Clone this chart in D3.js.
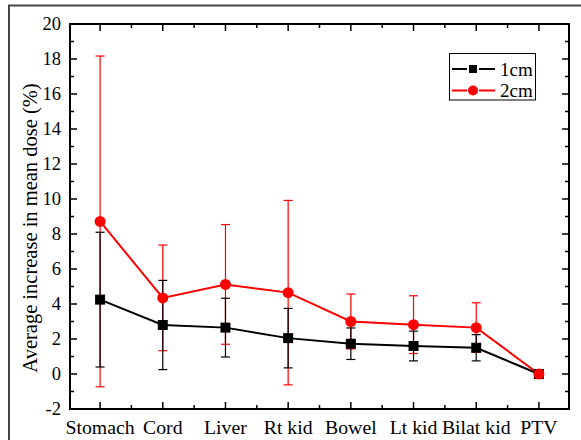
<!DOCTYPE html>
<html><head><meta charset="utf-8">
<script src="https://cdn.jsdelivr.net/npm/d3@7"></script>
<style>body{margin:0;background:#fff}svg{display:block}text{font-family:"Liberation Serif","Times New Roman",serif}</style>
</head><body>
<script>
const categories = ["Stomach","Cord","Liver","Rt kid","Bowel","Lt kid","Bilat kid","PTV"];
const mean1cm = [4.25, 2.8, 2.65, 2.05, 1.73, 1.6, 1.5, 0];
const err1cm  = [3.85, 2.55, 1.68, 1.7, 0.9, 0.85, 0.75, 0];
const mean2cm = [8.72, 4.35, 5.12, 4.65, 3.0, 2.82, 2.65, 0];
const err2cm  = [9.45, 3.02, 3.42, 5.27, 1.57, 1.65, 1.42, 0];
const yTicks = [-2,0,2,4,6,8,10,12,14,16,18,20];
const seriesNames = ["1cm","2cm"];

const W=581,H=440;
const m={l:70,r:569,t:24,b:409};
const svg=d3.select("body").append("svg").attr("width",W).attr("height",H);
svg.append("rect").attr("width",W).attr("height",H).attr("fill","#fff");
// outer frame
svg.append("rect").attr("x",9).attr("y",5.5).attr("width",620).attr("height",500)
  .attr("fill","none").attr("stroke","#444").attr("stroke-width",2);

const x=d3.scaleLinear().domain([0.52,8.48]).range([m.l,m.r]);
const y=d3.scaleLinear().domain([-2,20]).range([m.b,m.t]);
const xi=i=>x(i+1);

const g=svg.append("g");
const majorY=yTicks, minorY=d3.range(-1,20,2);
const majorX=d3.range(1,9), minorX=d3.range(1.5,8.5,1);
const tk=(x1,y1,x2,y2)=>g.append("line").attr("x1",x1).attr("y1",y1).attr("x2",x2).attr("y2",y2).attr("stroke","#000").attr("stroke-width",1.5);
majorY.forEach(v=>{tk(m.l,y(v),m.l+7,y(v));tk(m.r,y(v),m.r-7,y(v));});
minorY.forEach(v=>{tk(m.l,y(v),m.l+4,y(v));tk(m.r,y(v),m.r-4,y(v));});
majorX.forEach(v=>{tk(x(v),m.b,x(v),m.b-7);tk(x(v),m.t,x(v),m.t+7);});
minorX.forEach(v=>{tk(x(v),m.b,x(v),m.b-4);tk(x(v),m.t,x(v),m.t+4);});
g.append("rect").attr("x",m.l).attr("y",m.t).attr("width",m.r-m.l).attr("height",m.b-m.t)
  .attr("fill","none").attr("stroke","#000").attr("stroke-width",2);

yTicks.forEach(v=>g.append("text").attr("x",61).attr("y",y(v)).attr("dy","0.35em")
  .attr("text-anchor","end").attr("font-size",18.5).text(v));
categories.forEach((c,i)=>g.append("text").attr("x",xi(i)).attr("y",434)
  .attr("text-anchor","middle").attr("font-size",19.8).text(c));
g.append("text").attr("transform","translate(37,228) rotate(-90)").attr("text-anchor","middle")
  .attr("font-size",20.5).text("Average increase in mean dose (%)");

function errs(mean,err,col){
  mean.forEach((v,i)=>{
    if(err[i]===0) return;
    const cx=xi(i), hi=y(v+err[i]), lo=y(v-err[i]);
    const e=g.append("g").attr("stroke",col).attr("stroke-width",1.2);
    e.append("line").attr("x1",cx).attr("x2",cx).attr("y1",hi).attr("y2",lo);
    e.append("line").attr("x1",cx-4.5).attr("x2",cx+4.5).attr("y1",hi).attr("y2",hi);
    e.append("line").attr("x1",cx-4.5).attr("x2",cx+4.5).attr("y1",lo).attr("y2",lo);
  });
}
errs(mean2cm,err2cm,"#ff0000");
errs(mean1cm,err1cm,"#000");
const line=d3.line().x((d,i)=>xi(i)).y(d=>y(d));
g.append("path").datum(mean1cm).attr("d",line).attr("fill","none").attr("stroke","#000").attr("stroke-width",2);
g.append("path").datum(mean2cm).attr("d",line).attr("fill","none").attr("stroke","#ff0000").attr("stroke-width",2);
mean1cm.forEach((v,i)=>g.append("rect").attr("x",xi(i)-5).attr("y",y(v)-5).attr("width",10).attr("height",10).attr("fill","#000"));
mean2cm.forEach((v,i)=>g.append("circle").attr("cx",xi(i)).attr("cy",y(v)).attr("r",5.5).attr("fill","#ff0000"));

const lg=svg.append("g");
lg.append("rect").attr("x",449.5).attr("y",53.5).attr("width",86).attr("height",46.5).attr("fill","#fff").attr("stroke","#000").attr("stroke-width",1);
[[69,"#000","sq"],[90.5,"#ff0000","ci"]].forEach(([ly,col,sh],k)=>{
  lg.append("line").attr("x1",452).attr("x2",467).attr("y1",ly).attr("y2",ly).attr("stroke",col).attr("stroke-width",2);
  lg.append("line").attr("x1",479).attr("x2",495).attr("y1",ly).attr("y2",ly).attr("stroke",col).attr("stroke-width",2);
  if(sh==="sq") lg.append("rect").attr("x",469).attr("y",ly-4).attr("width",8).attr("height",8).attr("fill",col);
  else lg.append("circle").attr("cx",473).attr("cy",ly).attr("r",5).attr("fill",col);
  lg.append("text").attr("x",500).attr("y",ly).attr("dy","0.35em").attr("font-size",19).text(seriesNames[k]);
});
</script>
</body></html>
